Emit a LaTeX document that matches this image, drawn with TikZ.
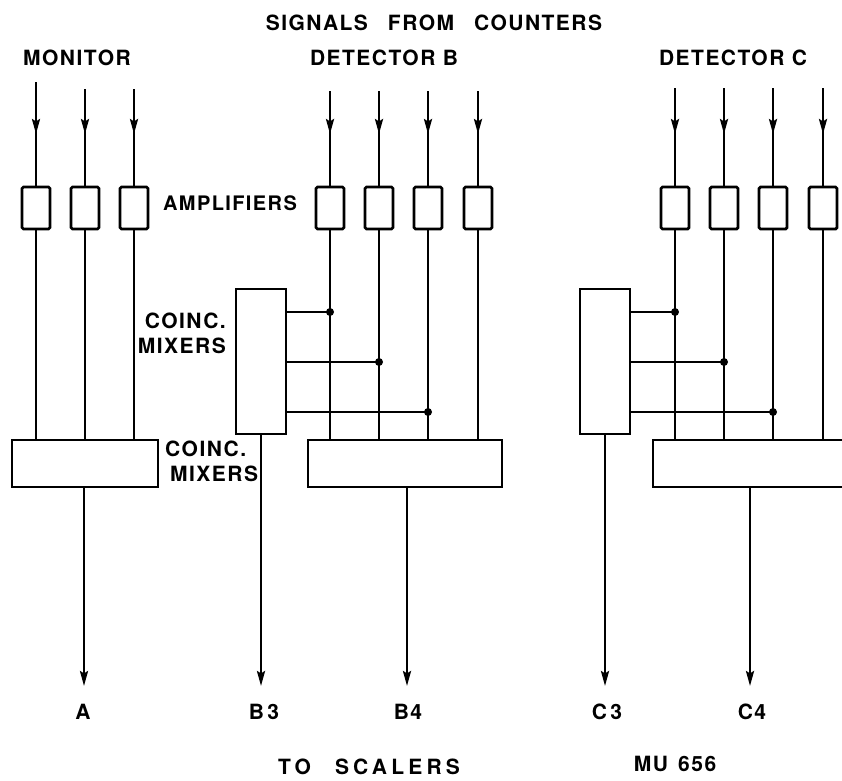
\documentclass[tikz,border=0pt]{standalone}
\usepackage{fontspec}
\newfontfamily\lab{TeX Gyre Heros}[LetterSpace=7]
\usetikzlibrary{arrows.meta,decorations.markings}
\tikzset{
  wire/.style={line width=2.6pt},
  amp/.style={draw, line width=2.8pt, minimum width=28pt, minimum height=42pt, inner sep=0pt, rounded corners=1.5pt},
  bigbox/.style={draw, line width=2.8pt, minimum height=47pt, inner sep=0pt},
  mixbox/.style={draw, line width=2.8pt, minimum width=50pt, minimum height=145pt, inner sep=0pt},
  tip/.style={-{Stealth[length=15pt,width=8pt,inset=2.5pt]}},
  inarrow/.style={postaction=decorate, decoration={markings, mark=at position #1 with {\arrow{Stealth[length=15pt,width=8pt,inset=2.5pt]}}}},
  lbl/.style={inner sep=0pt, font=\lab\bfseries\fontsize{21}{25}\selectfont},
  dot/.style={circle, fill, inner sep=0pt, minimum size=8pt}
}
\begin{document}
\begin{tikzpicture}[x=1pt,y=-1pt]
\useasboundingbox (0,0) rectangle (842,780);
\fill[white] (0,0) rectangle (842,780);
\clip (0,0) rectangle (842,780);

% labels
\node[lbl] (tSig) at (434,23) {SIGNALS\hspace{20pt}FROM\hspace{20pt}COUNTERS};
\node[lbl] (tMon) at (77,58) {MONITOR};
\node[lbl] (tDB) at (384,58) {DETECTOR B};
\node[lbl] (tDC) at (733,58) {DETECTOR C};
\node[lbl, font=\lab\bfseries\fontsize{20}{25}\selectfont] (tAmp) at (230,203) {AMPLIFIERS};
\node[lbl, align=right, anchor=north east] (tCM1) at (226,313) {COINC.\\MIXERS};
\node[lbl, align=left, anchor=north west] (tCM2) at (165,441) {COINC.\\\hspace{5pt}MIXERS};
\node[lbl] (lA) at (83,712) {A};
\node[lbl] (lB3) at (264,712) {B\,3};
\node[lbl] (lB4) at (408,712) {B4};
\node[lbl] (lC3) at (607,712) {C\,3};
\node[lbl] (lC4) at (752,712) {C4};
\node[lbl, font=\lab\bfseries\fontsize{21}{25}\selectfont\addfontfeature{LetterSpace=20}] (tTo) at (369,767) {TO\hspace{24pt}SCALERS};
\node[lbl] (tMU) at (675,764) {MU\hspace{3pt} 656};

% amplifiers
\node[amp] (mA1) at (36,208) {};
\node[amp] (mA2) at (85,208) {};
\node[amp] (mA3) at (134,208) {};
\node[amp] (bA1) at (330,208) {};
\node[amp] (bA2) at (379,208) {};
\node[amp] (bA3) at (428,208) {};
\node[amp] (bA4) at (478,208) {};
\node[amp] (cA1) at (675,208) {};
\node[amp] (cA2) at (724,208) {};
\node[amp] (cA3) at (773,208) {};
\node[amp] (cA4) at (823,208) {};

% coincidence mixers
\node[bigbox, minimum width=146pt] (mM) at (85,463.5) {};
\node[bigbox, minimum width=194pt] (bM) at (405,463.5) {};
\node[bigbox, minimum width=250pt] (cM) at (778,463.5) {};
\node[mixbox] (bX) at (261,361.5) {};
\node[mixbox] (cX) at (605,361.5) {};

% inputs
\coordinate (mI1) at (36,82);
\coordinate (mI2) at (85,89);
\coordinate (mI3) at (134,89);
\coordinate (bI1) at (330,91);
\coordinate (bI2) at (379,91);
\coordinate (bI3) at (428,91);
\coordinate (bI4) at (478,91);
\coordinate (cI1) at (675,88);
\coordinate (cI2) at (724,88);
\coordinate (cI3) at (773,88);
\coordinate (cI4) at (823,88);
\draw[wire, inarrow=52pt] (mI1) -- (mA1.north);
\foreach \i/\a in {mI2/mA2, mI3/mA3} {\draw[wire, inarrow=45pt] (\i) -- (\a.north);}
\foreach \i/\a in {bI1/bA1,bI2/bA2,bI3/bA3,bI4/bA4} {\draw[wire, inarrow=43pt] (\i) -- (\a.north);}
\foreach \i/\a in {cI1/cA1,cI2/cA2,cI3/cA3,cI4/cA4} {\draw[wire, inarrow=46pt] (\i) -- (\a.north);}

% amplifier outputs to mixers
\foreach \a/\m in {mA1/mM,mA2/mM,mA3/mM,bA1/bM,bA2/bM,bA3/bM,bA4/bM,cA1/cM,cA2/cM,cA3/cM,cA4/cM}
  {\draw[wire] (\a.south) -- (\a.south |- \m.north);}

% taps into small mixers
\coordinate (bT1) at (330,312);
\coordinate (bT2) at (379,362);
\coordinate (bT3) at (428,412);
\coordinate (cT1) at (675,312);
\coordinate (cT2) at (724,362);
\coordinate (cT3) at (773,412);
\foreach \t in {bT1,bT2,bT3} {\draw[wire] (bX.east |- \t) -- (\t); \node[dot] at (\t) {};}
\foreach \t in {cT1,cT2,cT3} {\draw[wire] (cX.east |- \t) -- (\t); \node[dot] at (\t) {};}

% outputs
\coordinate (oA) at (84,686);
\coordinate (oB3) at (261,686);
\coordinate (oB4) at (407,686);
\coordinate (oC3) at (605,686);
\coordinate (oC4) at (750,686);
\draw[wire, tip] (mM.south -| oA) -- (oA);
\draw[wire, tip] (bX.south) -- (oB3);
\draw[wire, tip] (bM.south -| oB4) -- (oB4);
\draw[wire, tip] (cX.south) -- (oC3);
\draw[wire, tip] (cM.south -| oC4) -- (oC4);
\end{tikzpicture}
\end{document}
